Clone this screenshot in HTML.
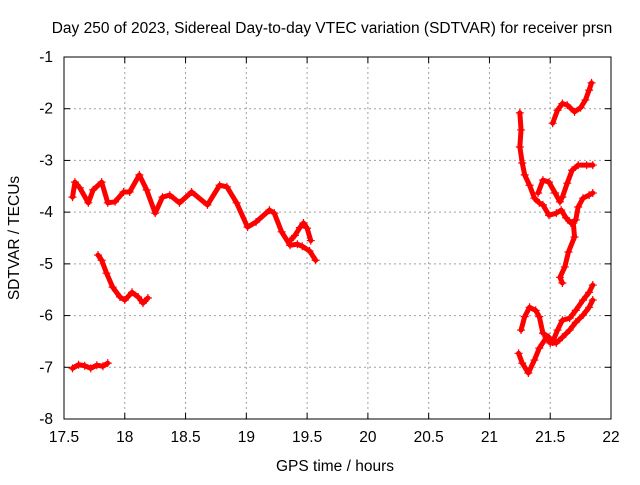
<!DOCTYPE html>
<html><head><meta charset="utf-8"><style>
body{margin:0;background:#fff;}
svg text{font-family:"Liberation Sans",sans-serif;font-size:15.5px;fill:#000;}
</style></head><body>
<svg id="chart" width="640" height="480" xmlns="http://www.w3.org/2000/svg">
<text x="332" y="33" text-anchor="middle">Day 250 of 2023, Sidereal Day-to-day VTEC variation (SDTVAR) for receiver prsn</text>
<g id="grid"></g>
<g id="ticks"></g>
<g id="marks"></g>
<rect x="64" y="57" width="547" height="362" fill="none" stroke="#000" stroke-width="1"/>
<text x="335" y="471" text-anchor="middle">GPS time / hours</text>
<text x="19" y="238" text-anchor="middle" transform="rotate(-90 19 238)">SDTVAR / TECUs</text>
</svg>
<script>
const xTicks=[17.5,18,18.5,19,19.5,20,20.5,21,21.5,22];
const xTickLabels=["17.5","18","18.5","19","19.5","20","20.5","21","21.5","22"];
const yTicks=[-1,-2,-3,-4,-5,-6,-7,-8];
const yTickLabels=["-1","-2","-3","-4","-5","-6","-7","-8"];
const segMainT=[17.57,17.59,17.63,17.70,17.74,17.81,17.86,17.92,17.99,18.04,18.12,18.18,18.25,18.31,18.37,18.45,18.55,18.68,18.78,18.84,18.92,19.01,19.08,19.19,19.23,19.29,19.36,19.42,19.46,19.52,19.57];
const segMainV=[-3.71,-3.42,-3.53,-3.82,-3.57,-3.42,-3.82,-3.80,-3.61,-3.61,-3.28,-3.57,-4.02,-3.71,-3.67,-3.82,-3.61,-3.86,-3.48,-3.51,-3.82,-4.29,-4.19,-3.96,-4.02,-4.38,-4.64,-4.62,-4.66,-4.75,-4.93];
const segBumpT=[19.36,19.40,19.44,19.47,19.50,19.53];
const segBumpV=[-4.55,-4.45,-4.30,-4.21,-4.31,-4.55];
const seg2T=[17.78,17.81,17.85,17.90,17.96,18.00,18.06,18.11,18.15,18.19];
const seg2V=[-4.83,-4.93,-5.18,-5.45,-5.64,-5.70,-5.55,-5.64,-5.76,-5.66];
const seg3T=[17.57,17.62,17.67,17.72,17.77,17.82,17.86];
const seg3V=[-7.02,-6.95,-6.97,-7.02,-6.96,-6.98,-6.92];
const segAT=[21.52,21.56,21.60,21.64,21.70,21.75,21.79,21.82,21.84];
const segAV=[-2.28,-2.03,-1.90,-1.93,-2.06,-1.98,-1.83,-1.64,-1.50];
const segBT=[21.25,21.26,21.25,21.27,21.29,21.33,21.37,21.41,21.44,21.49,21.55,21.59,21.63,21.67,21.71,21.73,21.77,21.82,21.85];
const segBV=[-2.08,-2.41,-2.74,-3.05,-3.28,-3.48,-3.73,-3.82,-3.86,-4.06,-4.02,-3.96,-4.11,-4.21,-4.15,-3.90,-3.73,-3.67,-3.63];
const segCT=[21.40,21.44,21.49,21.54,21.58,21.60,21.64,21.68,21.73,21.80,21.85];
const segCV=[-3.63,-3.38,-3.42,-3.63,-3.80,-3.71,-3.44,-3.19,-3.09,-3.09,-3.09];
const segDT=[21.69,21.70,21.65,21.62,21.58,21.60];
const segDV=[-4.21,-4.48,-4.77,-5.06,-5.26,-5.37];
const segET=[21.26,21.29,21.33,21.38,21.41,21.44,21.49,21.52,21.56,21.60,21.66,21.71,21.77,21.82,21.85];
const segEV=[-6.28,-6.02,-5.84,-5.90,-6.02,-6.34,-6.42,-6.51,-6.28,-6.09,-6.05,-5.90,-5.70,-5.55,-5.41];
const segFT=[21.24,21.27,21.32,21.37,21.41,21.47,21.50,21.55,21.60,21.66,21.71,21.77,21.82,21.85];
const segFV=[-6.73,-6.92,-7.11,-6.86,-6.63,-6.42,-6.53,-6.53,-6.42,-6.28,-6.13,-5.99,-5.84,-5.70];
const segments=[[segMainT,segMainV],[segBumpT,segBumpV],[seg2T,seg2V],[seg3T,seg3V],[segAT,segAV],[segBT,segBV],[segCT,segCV],[segDT,segDV],[segET,segEV],[segFT,segFV]];

const NS="http://www.w3.org/2000/svg";
const X0=64,X1=611,Y0=57,Y1=419;
function xs(t){return X0+(t-17.5)/(22-17.5)*(X1-X0);}
function ys(v){return Y0+(-1-v)/(-1+8)*(Y1-Y0);}
function mk(tag,attrs,parent){const e=document.createElementNS(NS,tag);for(const k in attrs)e.setAttribute(k,attrs[k]);parent.appendChild(e);return e;}
const grid=document.getElementById('grid'),ticks=document.getElementById('ticks'),marks=document.getElementById('marks');
xTicks.forEach((t,i)=>{const x=xs(t);
 if(i>0&&i<xTicks.length-1){const g=mk('line',{x1:x,x2:x,y1:Y0,y2:Y1,stroke:'#a0a0a0','stroke-dasharray':'2,3'},grid);
 
 }
 mk('line',{x1:x,x2:x,y1:Y1,y2:Y1-6,stroke:'#000'},ticks);
 mk('line',{x1:x,x2:x,y1:Y0,y2:Y0+6,stroke:'#000'},ticks);
 const l=mk('text',{x:x,y:442,'text-anchor':'middle'},ticks);l.textContent=xTickLabels[i];
 
 
});
yTicks.forEach((v,i)=>{const y=ys(v);
 if(i>0&&i<yTicks.length-1){const g=mk('line',{x1:X0,x2:X1,y1:y,y2:y,stroke:'#a0a0a0','stroke-dasharray':'2,3'},grid);
 
 }
 mk('line',{x1:X0,x2:X0+6,y1:y,y2:y,stroke:'#000'},ticks);
 mk('line',{x1:X1,x2:X1-6,y1:y,y2:y,stroke:'#000'},ticks);
 const l=mk('text',{x:53,y:y+5,'text-anchor':'end'},ticks);l.textContent=yTickLabels[i];
 
 
});
segments.forEach(([T,V])=>{
 const pts=T.map((t,i)=>xs(t)+','+ys(V[i])).join(' ');
 const pl=mk('polyline',{points:pts,fill:'none',stroke:'#ff0000','stroke-width':5,'stroke-linejoin':'round','stroke-linecap':'round'},marks);
 
 
 T.forEach((t,i)=>{const x=xs(t),y=ys(V[i]);
  const p=mk('path',{d:`M${x-4},${y}h8M${x},${y-4}v8`,stroke:'#ff0000','stroke-width':1.2},marks);
  
  
 });
});
</script>
</body></html>
